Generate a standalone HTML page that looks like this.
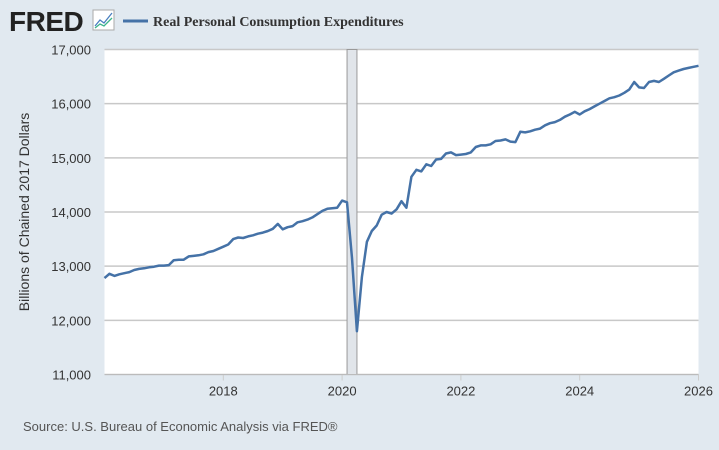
<!DOCTYPE html>
<html><head><meta charset="utf-8"><style>
body{margin:0;background:#e1e9f0;width:719px;height:450px;overflow:hidden;font-family:"Liberation Sans",sans-serif}
svg{display:block}
</style></head><body>
<svg id="chart" width="719" height="450">
<rect x="0" y="0" width="719" height="450" fill="#e1e9f0"/>
<text x="9" y="31" font-family="Liberation Sans" font-weight="bold" font-size="28" fill="#222" letter-spacing="-0.5">FRED</text>
<g>
<rect x="93" y="10" width="21" height="20" fill="#fff" stroke="#aaa"/>
<polyline points="95,26 100,20 104,23 112,13" fill="none" stroke="#4a7fc0" stroke-width="1.3"/>
<polyline points="95,28 100,24 104,26 112,18" fill="none" stroke="#3cb48a" stroke-width="1.3"/>
</g>
<line x1="123" y1="21" x2="148" y2="21" stroke="#4572a7" stroke-width="3"/>
<text x="153" y="26" font-family="Liberation Serif" font-weight="bold" font-size="14" fill="#333">Real Personal Consumption Expenditures</text>
<rect x="104.5" y="49.5" width="594" height="325" fill="#fff"/>
<g id="grid"></g>
<g id="rec"></g>
<g id="yt"></g>
<g id="xt"></g>
<polyline id="line" fill="none" stroke="#4572a7" stroke-width="2.5" stroke-linejoin="round"/>
<line x1="104.5" y1="374.5" x2="698.5" y2="374.5" stroke="#bbb"/>
<text transform="translate(29,212) rotate(-90)" text-anchor="middle" font-size="14" fill="#333">Billions of Chained 2017 Dollars</text>
<text x="23" y="431" font-size="13" fill="#555">Source: U.S. Bureau of Economic Analysis via FRED®</text>
</svg>
<script>
const yTicks=[11000,12000,13000,14000,15000,16000,17000];
const xTicks=[2018,2020,2022,2024,2026];
const startYear=2016;
const pce=[
12780,12860,12820,12850,12870,12890,12930,12950,12960,12980,12990,13010,
13010,13020,13110,13120,13120,13180,13190,13200,13220,13260,13280,13320,
13360,13400,13500,13530,13520,13550,13570,13600,13620,13650,13690,13780,
13680,13720,13740,13810,13830,13860,13900,13960,14020,14060,14070,14080,
14210,14180,
13150,11800,12800,13450,13650,13750,13950,14000,13970,
14050,14200,14080,14650,14780,14750,14880,14850,14970,14980,15080,15100,
15050,15060,15070,15100,15200,15230,15230,15250,15310,15320,15340,15300,15290,
15480,15470,15490,15520,15540,15600,15640,15660,15700,15760,15800,15850,
15800,15860,15900,15950,16000,16050,16100,16120,16150,16200,16260,16400,
16300,16290,16400,16420,16400,16460,16520,16580,16610,16640,16660,16680,16700,
16710
];
const recStart=2020+1/12, recEnd=2020+3/12;
const X0=104.5,X1=698.5,Y0=374.5,Y1=49.5;
const xs=t=>X0+(t-2016)/(2026-2016)*(X1-X0);
const ys=v=>Y0-(v-11000)/(17000-11000)*(Y0-Y1);
const NS="http://www.w3.org/2000/svg";
function mk(tag,attrs,parent){const e=document.createElementNS(NS,tag);for(const k in attrs)e.setAttribute(k,attrs[k]);document.getElementById(parent).appendChild(e);return e;}
yTicks.forEach(v=>{
  const l=mk('line',{x1:X0,x2:X1,y1:ys(v),y2:ys(v),stroke:'#c8c8c8','stroke-width':1.5},'grid');
  
  
  const t=mk('text',{x:91,y:ys(v)+5,'text-anchor':'end','font-size':13,fill:'#333'},'yt');
  t.textContent=v.toLocaleString('en-US');
  
  
});
xTicks.forEach(y=>{
  const l=mk('line',{x1:xs(y),x2:xs(y),y1:Y0,y2:Y0+6,stroke:'#ccc'},'xt');
  
  
  const t=mk('text',{x:xs(y),y:Y0+21,'text-anchor':'middle','font-size':13,fill:'#333'},'xt');
  t.textContent=y;
  
  
});
const r=mk('rect',{x:xs(recStart),y:Y1,width:xs(recEnd)-xs(recStart),height:Y0-Y1,fill:'#e1e5ea',stroke:'#999','stroke-width':1},'rec');


const line=document.getElementById('line');
line.setAttribute('points',pce.filter((v,i)=>startYear+i/12<=2026.001).map((v,i)=>xs(startYear+i/12).toFixed(1)+','+ys(v).toFixed(1)).join(' '));
</script>
</body></html>
